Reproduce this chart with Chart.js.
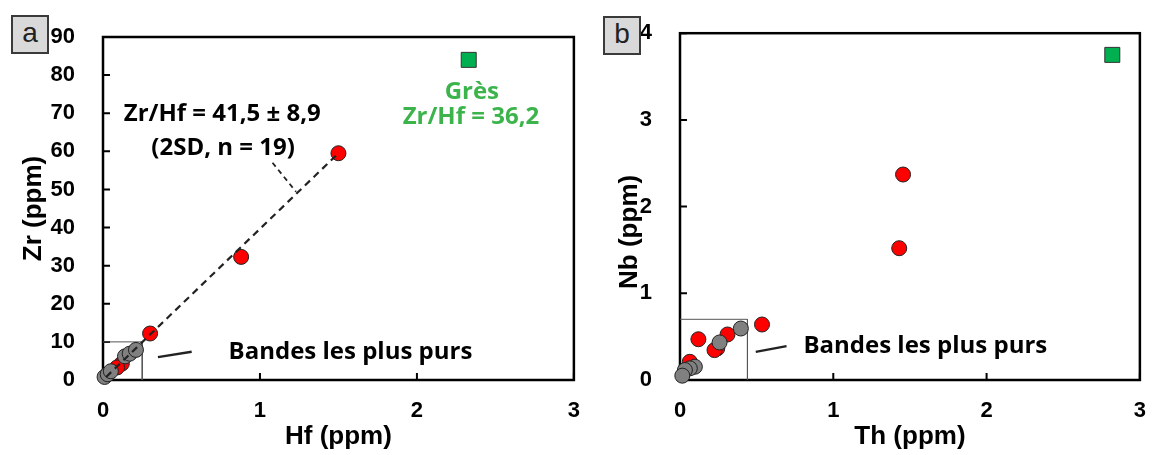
<!DOCTYPE html>
<html lang="fr">
<head>
<meta charset="utf-8">
<title>Zr/Hf et Nb/Th</title>
<script src="https://cdn.jsdelivr.net/npm/chart.js@4.4.1/dist/chart.umd.min.js"></script>
<style>
body{margin:0;background:#fff;width:1156px;height:455px;position:relative;overflow:hidden}
.wrap{position:absolute;top:0;height:455px}
.tag{position:absolute;width:34px;height:35px;background:#d9d9d9;border:2px solid #3a3a3a;
  font:28px "Liberation Sans",Arial,sans-serif;text-align:center;line-height:31px;color:#222}
</style>
</head>
<body>
<div class="wrap" style="left:0;width:590px"><canvas id="ca"></canvas></div>
<div class="wrap" style="left:590px;width:566px"><canvas id="cb"></canvas></div>
<div class="tag" style="left:11px;top:15px">a</div>
<div class="tag" style="left:603px;top:16px">b</div>
<script>
// panel a : Zr vs Hf (ppm)
var hfRed  = [1.50, 0.88, 0.30, 0.12, 0.09];
var zrRed  = [59.5, 32.3, 12.2, 4.3, 3.3];
var hfGray = [0.01, 0.03, 0.05, 0.14, 0.17, 0.21];
var zrGray = [0.8, 1.5, 2.3, 6.2, 6.9, 7.9];
var hfGres = [2.33];
var zrGres = [84.0];
var hfFit  = [0.02, 1.50];   // Zr/Hf trend
var zrFit  = [0.8, 59.5];

// panel b : Nb vs Th (ppm)
var thRed  = [1.455, 1.43, 0.535, 0.31, 0.12, 0.243, 0.225, 0.064];
var nbRed  = [2.37, 1.52, 0.64, 0.525, 0.47, 0.364, 0.345, 0.21];
var thGray = [0.397, 0.258, 0.097, 0.064, 0.032, 0.015];
var nbGray = [0.594, 0.433, 0.153, 0.134, 0.115, 0.05];
var thGres = [2.82];
var nbGres = [3.75];

// "Bandes les plus purs" boxes
var boxA = {x: 0.25, y: 10};
var boxB = {x: 0.44, y: 0.7};

function pts(xs, ys) {
  return xs.map(function (x, i) { return {x: x, y: ys[i]}; });
}
function boxPts(b) {
  return [{x: 0, y: b.y}, {x: b.x, y: b.y}, {x: b.x, y: 0}];
}

var annoFont = 'bold 24px "Open Sans", sans-serif';

// frame + inward ticks
var frame = {
  id: 'frame',
  beforeDatasetsDraw: function (chart) {
    var c = chart.ctx, a = chart.chartArea;
    var sx = chart.scales.x, sy = chart.scales.y;
    c.save();
    c.strokeStyle = '#000';
    c.lineWidth = 2.5;
    c.strokeRect(a.left, a.top, a.right - a.left, a.bottom - a.top);
    c.lineWidth = 2;
    c.beginPath();
    sx.ticks.forEach(function (t) {
      var px = sx.getPixelForValue(t.value);
      c.moveTo(px, a.bottom); c.lineTo(px, a.bottom - 7);
    });
    sy.ticks.forEach(function (t) {
      var py = sy.getPixelForValue(t.value);
      c.moveTo(a.left, py); c.lineTo(a.left + 7, py);
    });
    c.stroke();
    c.restore();
  }
};

// text notes in data units
var notes = {
  id: 'notes',
  afterDatasetsDraw: function (chart, args, opts) {
    var c = chart.ctx, sx = chart.scales.x, sy = chart.scales.y;
    c.save();
    c.font = annoFont;
    c.textBaseline = 'middle';
    (opts.items || []).forEach(function (n) {
      c.fillStyle = n.color || '#000';
      c.textAlign = n.align || 'center';
      c.fillText(n.text, sx.getPixelForValue(n.x), sy.getPixelForValue(n.y));
    });
    c.restore();
  }
};

function lineSet(data, dash, width, color, order) {
  return {type: 'line', data: data, showLine: true, borderColor: color, borderWidth: width,
    borderDash: dash, pointRadius: 0, pointHoverRadius: 0, fill: false, order: order, clip: false};
}
function dotSet(data, fill, order) {
  return {data: data, backgroundColor: fill, borderColor: '#222', borderWidth: 1,
    pointRadius: 7.5, pointHoverRadius: 7.5, order: order, clip: false};
}

function makeChart(id, o) {
  return new Chart(document.getElementById(id), {
    type: 'scatter',
    data: {datasets: o.datasets},
    options: {
      responsive: true,
      maintainAspectRatio: false,
      animation: false,
      events: [],
      layout: {padding: {left: 0, top: o.top, right: o.right, bottom: 0}},
      plugins: {legend: {display: false}, tooltip: {enabled: false}, notes: {items: o.notes}},
      scales: {
        x: {
          type: 'linear', min: 0, max: 3,
          afterFit: function (s) { s.height = 75; },
          grid: {display: false}, border: {display: false},
          ticks: {stepSize: 1, padding: 10, color: '#000',
            font: {family: '"Liberation Sans", Arial', weight: 'bold', size: 22}},
          title: {display: true, text: o.xTitle, color: '#000', padding: {top: 0, bottom: 3},
            font: {family: '"Liberation Sans", Arial', weight: 'bold', size: 26}}
        },
        y: {
          type: 'linear', min: 0, max: o.yMax,
          afterFit: function (s) { s.width = o.yWidth; },
          grid: {display: false}, border: {display: false},
          ticks: {stepSize: o.yStep, padding: 20, color: '#000',
            font: {family: '"Liberation Sans", Arial', weight: 'bold', size: 22}},
          title: {display: true, text: o.yTitle, color: '#000', padding: {top: o.yTitlePad, bottom: 0},
            font: {family: '"Liberation Sans", Arial', weight: 'bold', size: 26}}
        }
      }
    },
    plugins: [frame, notes]
  });
}

makeChart('ca', {
  top: 37, right: 15, yWidth: 103, yMax: 90, yStep: 10, yTitlePad: 18,
  xTitle: 'Hf (ppm)', yTitle: 'Zr (ppm)',
  datasets: [
    lineSet(pts(hfFit, zrFit), [7, 5], 2.2, '#222', 0),
    lineSet([{x: 1.08, y: 57}, {x: 1.23, y: 49.4}], [5, 4], 1.8, '#222', 0),
    lineSet([{x: 0.35, y: 6.0}, {x: 0.565, y: 7.4}], [], 2.4, '#222', 0),
    lineSet(boxPts(boxA), [], 1, '#555', 3),
    dotSet(pts(hfGray, zrGray), '#808080', 1),
    dotSet(pts(hfRed, zrRed), '#ff0000', 2),
    {data: pts(hfGres, zrGres), pointStyle: 'rect', pointRadius: 10.6, pointHoverRadius: 10.6,
      backgroundColor: '#00b050', borderColor: '#333', borderWidth: 1, order: 1, clip: false}
  ],
  notes: [
    {text: 'Zr/Hf = 41,5 \u00b1 8,9', x: 0.76, y: 69.8},
    {text: '(2SD, n = 19)', x: 0.765, y: 60.9},
    {text: 'Gr\u00e8s', x: 2.35, y: 75.6, color: '#3cb44b'},
    {text: 'Zr/Hf = 36,2', x: 2.344, y: 69, color: '#3cb44b'},
    {text: 'Bandes les plus purs', x: 0.80, y: 7.3, align: 'left'}
  ]
});

makeChart('cb', {
  top: 32, right: 10, yWidth: 90, yMax: 4, yStep: 1, yTitlePad: 24,
  xTitle: 'Th (ppm)', yTitle: 'Nb (ppm)' + '\u00a0'.repeat(7),
  datasets: [
    lineSet([{x: 0.494, y: 0.325}, {x: 0.695, y: 0.39}], [], 2.4, '#222', 0),
    lineSet(boxPts(boxB), [], 1, '#555', 3),
    dotSet(pts(thGray, nbGray), '#808080', 1),
    dotSet(pts(thRed, nbRed), '#ff0000', 2),
    {data: pts(thGres, nbGres), pointStyle: 'rect', pointRadius: 10.6, pointHoverRadius: 10.6,
      backgroundColor: '#00b050', borderColor: '#333', borderWidth: 1, order: 1, clip: false}
  ],
  notes: [
    {text: 'Bandes les plus purs', x: 0.805, y: 0.39, align: 'left'}
  ]
});
</script>
</body>
</html>
